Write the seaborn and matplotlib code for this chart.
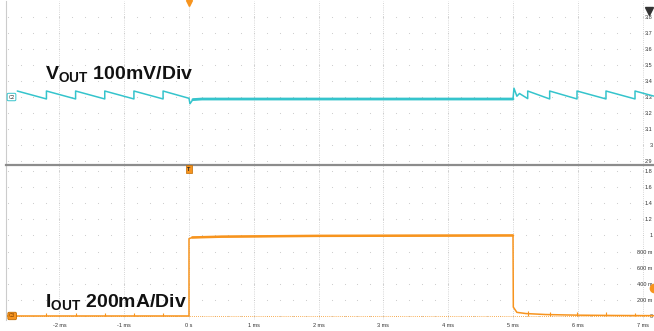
import numpy as np
import pandas as pd
import matplotlib.pyplot as plt
import seaborn as sns

# values (time in ms, V and A)
v_time = [-2.65, -2.20, -2.20, -1.75, -1.75, -1.30, -1.30, -0.85, -0.85, -0.40, -0.40,
          0.0, 0.015, 0.06, 0.2, 5.0, 5.015, 5.06, 5.10, 5.227, 5.227, 5.566, 5.566,
          5.988, 5.988, 6.435, 6.435, 6.883, 6.883, 7.17]
v_out = [3.3375, 3.288, 3.3375, 3.288, 3.3375, 3.288, 3.3375, 3.288, 3.3375, 3.288, 3.3375,
         3.292, 3.258, 3.284, 3.2875, 3.2875, 3.355, 3.305, 3.322, 3.29, 3.3375, 3.288, 3.3375,
         3.288, 3.3375, 3.288, 3.3375, 3.288, 3.3375, 3.306]

i_time = [-2.82, 0.0, 0.0, 0.05, 0.5, 2.0, 5.0, 5.005, 5.06, 5.2, 5.5, 6.0, 6.6, 7.17]
i_out = [0.0, 0.0, 0.96, 0.975, 0.985, 0.995, 1.0, 0.11, 0.045, 0.03, 0.018, 0.01, 0.006, 0.004]

# small current spikes at each ripple reset
spike_time = [-2.20, -1.75, -1.30, -0.85, -0.40, 5.227, 5.566, 5.988, 6.435, 6.883]
spike_top = [0.035, 0.035, 0.035, 0.035, 0.035, 0.06, 0.055, 0.05, 0.045, 0.04]

x_ticks = [-2, -1, 0, 1, 2, 3, 4, 5, 6, 7]
x_labels = ['-2 ms', '-1 ms', '0 s', '1 ms', '2 ms', '3 ms', '4 ms', '5 ms', '6 ms', '7 ms']
v_ticks = [3.8, 3.7, 3.6, 3.5, 3.4, 3.3, 3.2, 3.1, 3.0, 2.9]
v_labels = ['3.8', '3.7', '3.6', '3.5', '3.4', '3.3', '3.2', '3.1', '3', '2.9']
i_ticks = [1.8, 1.6, 1.4, 1.2, 1.0, 0.8, 0.6, 0.4, 0.2, 0.0]
i_labels = ['1.8', '1.6', '1.4', '1.2', '1', '800 m', '600 m', '400 m', '200 m', '0']

cyan = '#35c4cc'
orange = '#f7941e'
gridc = '#c8c8c8'

sns.set_style('white')
plt.rcParams['font.family'] = ['Liberation Sans', 'DejaVu Sans']
plt.rcParams['mathtext.fontset'] = 'custom'
plt.rcParams['mathtext.bf'] = 'Liberation Sans:bold'
plt.rcParams['mathtext.rm'] = 'Liberation Sans'

vdf = pd.DataFrame({'t': v_time, 'v': v_out})
idf = pd.DataFrame({'t': i_time, 'i': i_out})

fig = plt.figure(figsize=(6.54, 3.31), dpi=100)
ax_v = fig.add_axes([6 / 654, 165 / 331, 648 / 654, 165 / 331])
ax_i = fig.add_axes([6 / 654, 11 / 331, 648 / 654, 155 / 331])
ax_i.patch.set_alpha(0)

xlim = (-2.824, 7.176)
ax_v.set_xlim(xlim)
ax_i.set_xlim(xlim)
ax_v.set_ylim(2.869, 3.9)
ax_i.set_ylim(-0.05, 1.875)

# scope graticule: dotted verticals at each ms, dot rows at each division
dots_x = np.arange(-2.8, 7.2, 0.2)
for ax, rows in [(ax_v, v_ticks), (ax_i, i_ticks)]:
    for x in x_ticks:
        ax.axvline(x, color=gridc, lw=0.6, ls=(0, (1, 1.6)), zorder=0)
    gx, gy = np.meshgrid(dots_x, rows)
    ax.scatter(gx.ravel(), gy.ravel(), s=0.6, color=gridc, linewidths=0, zorder=0)

# traces
sns.lineplot(data=vdf, x='t', y='v', ax=ax_v, color=cyan, lw=1.1,
             estimator=None, sort=False)
flat_v = vdf[(vdf.t >= 0.06) & (vdf.t <= 5.0)]
sns.lineplot(data=flat_v, x='t', y='v', ax=ax_v, color=cyan, lw=2.0,
             estimator=None, sort=False)

sns.lineplot(data=idf, x='t', y='i', ax=ax_i, color=orange, lw=1.1,
             estimator=None, sort=False)
flat_i = idf[(idf.t >= 0.05) & (idf.t <= 5.0)]
sns.lineplot(data=flat_i, x='t', y='i', ax=ax_i, color=orange, lw=1.8,
             estimator=None, sort=False)
ax_i.vlines(spike_time, 0, spike_top, color=orange, lw=0.8)
ax_i.axhline(0, color=orange, lw=0.6, ls=(0, (1, 1.5)), zorder=1)

# axes cosmetics
for ax in (ax_v, ax_i):
    for s in ax.spines.values():
        s.set_visible(False)
    ax.spines['left'].set_visible(True)
    ax.spines['left'].set_color('#cccccc')
    ax.spines['left'].set_linewidth(0.8)
    ax.set_xlabel('')
    ax.set_ylabel('')
    ax.yaxis.tick_right()
    ax.tick_params(axis='y', length=0, pad=-1, labelsize=4, labelcolor='#333333')
# gray divider between the two channel panes
ax_i.spines['top'].set_visible(True)
ax_i.spines['top'].set_color('#8c8c8c')
ax_i.spines['top'].set_linewidth(1.6)

ax_v.set_yticks(v_ticks)
ax_v.set_yticklabels(v_labels)
ax_i.set_yticks(i_ticks)
ax_i.set_yticklabels(i_labels)
for lbl in ax_v.get_yticklabels() + ax_i.get_yticklabels():
    lbl.set_ha('right')

ax_v.set_xticks([])
ax_i.set_xticks(x_ticks)
ax_i.set_xticklabels(x_labels)
ax_i.tick_params(axis='x', length=0, pad=2, labelsize=4, labelcolor='#333333')

# channel / trigger markers
ax_v.text(0.0085, 3.3, 'C2', transform=ax_v.get_yaxis_transform(), fontsize=3.5,
          color='#333333', ha='center', va='center',
          bbox=dict(boxstyle='round,pad=0.25', fc='white', ec=cyan, lw=0.7))
ax_i.text(0.0095, 0.0, 'C3', transform=ax_i.get_yaxis_transform(), fontsize=3.5,
          color='#7a3d00', ha='center', va='center',
          bbox=dict(boxstyle='round,pad=0.25', fc=orange, ec='#c06a00', lw=0.6))
ax_i.text(0, 1.825, 'T', fontsize=4, color='#222222', ha='center', va='center',
          fontweight='bold', bbox=dict(boxstyle='square,pad=0.2', fc=orange, ec='#c06a00', lw=0.5))
ax_v.plot(0, 3.885, marker='v', ms=5, color=orange, clip_on=False)
ax_v.plot(0.992, 3.84, marker='v', ms=6, color='#333333',
          transform=ax_v.get_yaxis_transform(), clip_on=False)
ax_i.plot(1.0, 0.35, marker='o', ms=6, color=orange,
          transform=ax_i.get_yaxis_transform(), clip_on=True)

# annotations
fig.text(45 / 654, 1 - 79 / 331, r'$\mathbf{V_{OUT}}$ 100mV/Div', fontsize=14,
         fontweight='bold', color='#111111', va='baseline')
fig.text(45 / 654, 1 - 307 / 331, r'$\mathbf{I_{OUT}}$ 200mA/Div', fontsize=14,
         fontweight='bold', color='#111111', va='baseline')

fig.savefig('out.png', dpi=100)
